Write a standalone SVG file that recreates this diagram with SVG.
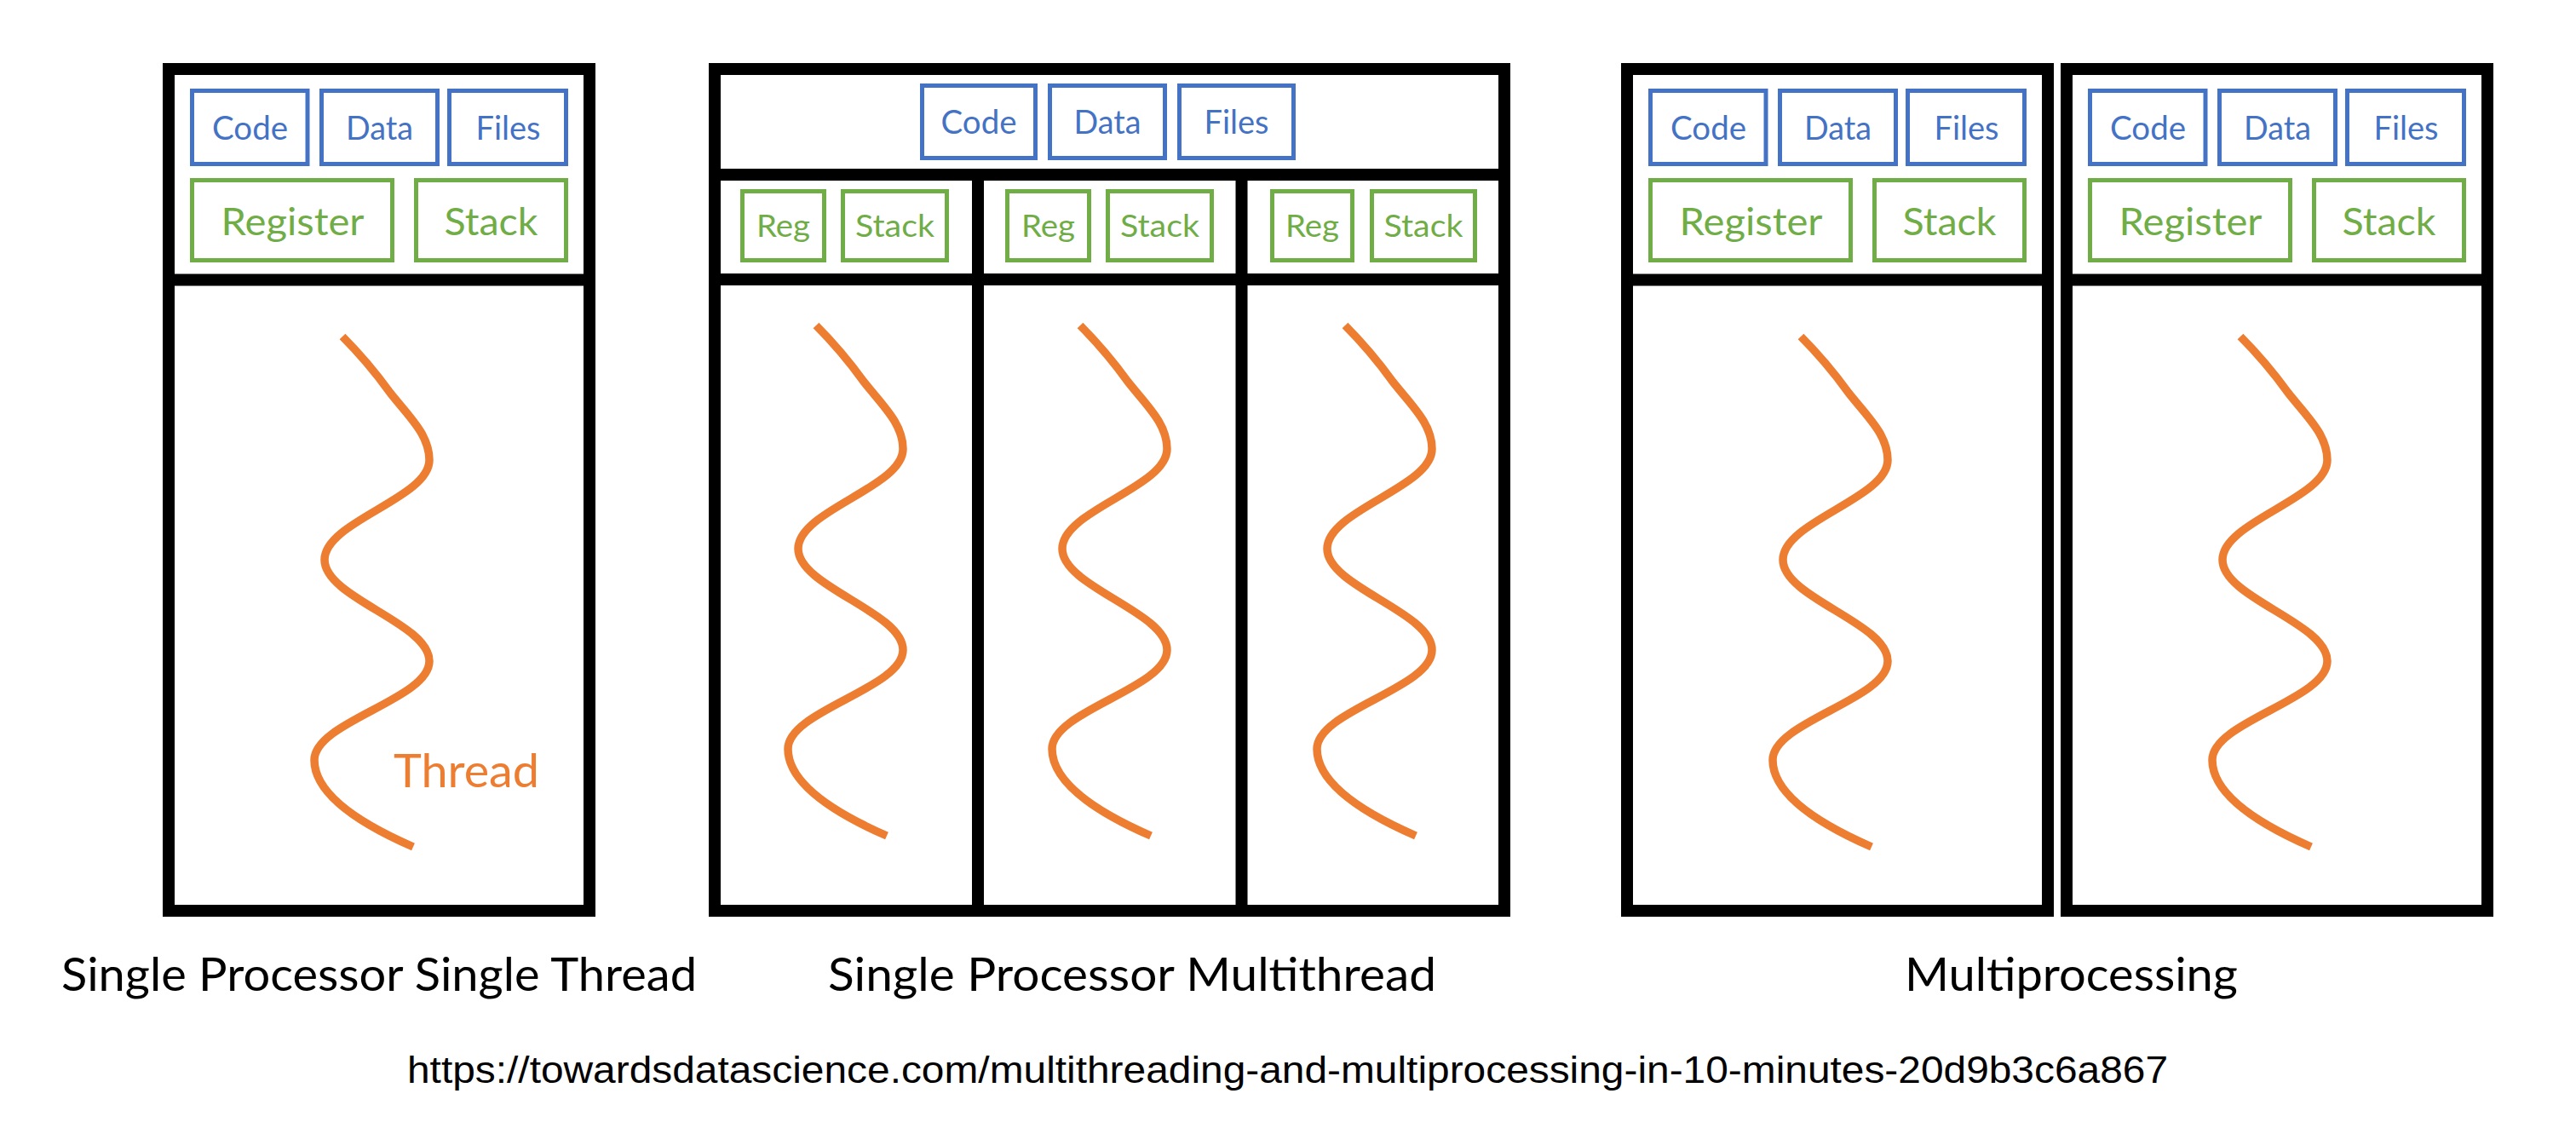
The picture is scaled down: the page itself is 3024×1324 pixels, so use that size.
<svg xmlns="http://www.w3.org/2000/svg" xmlns:xlink="http://www.w3.org/1999/xlink" width="3024" height="1324" viewBox="0 0 3024 1324">
<style>
.frame{fill:none;stroke:#000;stroke-width:14}
.bar{stroke:#000;stroke-width:14;fill:none}
.blue{fill:#fff;stroke:#4472C4;stroke-width:5}
.green{fill:#fff;stroke:#70AD47;stroke-width:5}
.bt{fill:#4472C4;font-family:Lato,"Open Sans",sans-serif;font-size:39px;text-anchor:middle}
.gt{fill:#70AD47;font-family:Lato,"Open Sans",sans-serif;font-size:45px;text-anchor:middle}
.gs{fill:#70AD47;font-family:Lato,"Open Sans",sans-serif;font-size:37px;text-anchor:middle}
.thread{fill:none;stroke:#ED7D31;stroke-width:9.5;stroke-linecap:butt}
.ot{fill:#ED7D31;font-family:Lato,"Open Sans",sans-serif;font-size:54px}
.lbl{fill:#000;font-family:Lato,"Open Sans",sans-serif;font-size:54px}
.url{fill:#000;font-family:"Liberation Sans",Arial,sans-serif;font-size:45px}
</style>
<defs>
<path id="thr" class="thread" d="M402,395 C425,418 445,443 458,461 C480,489 504,510 504,540 C504,585 381,612 381,657 C381,702 504,731 504,776 C504,821 369,847 369,892 C369,935 430,970 485,994"/>
</defs>
<rect width="3024" height="1324" fill="#fff"/>

<g id="box-single-thread">
  <rect class="frame" x="198" y="81" width="494" height="988"/>
  <line class="bar" x1="191" y1="328.5" x2="699" y2="328.5" stroke-width="13"/>
  <g id="b1-code"><rect class="blue" x="225.5" y="106.5" width="135.5" height="86"/><text class="bt" x="293.5" y="164" textLength="89" lengthAdjust="spacingAndGlyphs">Code</text></g>
  <g id="b1-data"><rect class="blue" x="377.5" y="106.5" width="136" height="86"/><text class="bt" x="445.5" y="164" textLength="79" lengthAdjust="spacingAndGlyphs">Data</text></g>
  <g id="b1-files"><rect class="blue" x="527.5" y="106.5" width="137" height="86"/><text class="bt" x="596.5" y="164" textLength="76" lengthAdjust="spacingAndGlyphs">Files</text></g>
  <g id="b1-register"><rect class="green" x="225.5" y="211.5" width="235" height="94"/><text class="gt" x="343.5" y="276" textLength="168" lengthAdjust="spacingAndGlyphs">Register</text></g>
  <g id="b1-stack"><rect class="green" x="488.5" y="211.5" width="176" height="94"/><text class="gt" x="576.5" y="276" textLength="110" lengthAdjust="spacingAndGlyphs">Stack</text></g>
  <g id="b1-thread"><use xlink:href="#thr" href="#thr"/></g>
  <text id="thread-label" class="ot" x="462" y="924" textLength="171" lengthAdjust="spacingAndGlyphs">Thread</text>
</g>

<g id="box-multithread">
  <rect class="frame" x="839" y="81" width="927" height="988"/>
  <line class="bar" x1="832" y1="205" x2="1773" y2="205"/>
  <line class="bar" x1="832" y1="328" x2="1773" y2="328" stroke-width="12"/>
  <line class="bar" x1="1148" y1="205" x2="1148" y2="1076"/>
  <line class="bar" x1="1457.5" y1="205" x2="1457.5" y2="1076" stroke-width="15"/>
  <g id="b2-code"><rect class="blue" x="1082.5" y="100.5" width="133" height="85"/><text class="bt" x="1149" y="157" textLength="89" lengthAdjust="spacingAndGlyphs">Code</text></g>
  <g id="b2-data"><rect class="blue" x="1232.5" y="100.5" width="135" height="85"/><text class="bt" x="1300" y="157" textLength="79" lengthAdjust="spacingAndGlyphs">Data</text></g>
  <g id="b2-files"><rect class="blue" x="1384.5" y="100.5" width="134" height="85"/><text class="bt" x="1451.5" y="157" textLength="76" lengthAdjust="spacingAndGlyphs">Files</text></g>
  <g id="b2-reg1"><rect class="green" x="871.5" y="224.5" width="96" height="81"/><text class="gs" x="919.5" y="278" textLength="63" lengthAdjust="spacingAndGlyphs">Reg</text></g>
  <g id="b2-stack1"><rect class="green" x="989.5" y="224.5" width="122" height="81"/><text class="gs" x="1050.5" y="278" textLength="93" lengthAdjust="spacingAndGlyphs">Stack</text></g>
  <g id="b2-reg2"><rect class="green" x="1182.5" y="224.5" width="96" height="81"/><text class="gs" x="1230.5" y="278" textLength="63" lengthAdjust="spacingAndGlyphs">Reg</text></g>
  <g id="b2-stack2"><rect class="green" x="1300.5" y="224.5" width="122" height="81"/><text class="gs" x="1361.5" y="278" textLength="93" lengthAdjust="spacingAndGlyphs">Stack</text></g>
  <g id="b2-reg3"><rect class="green" x="1493.5" y="224.5" width="94" height="81"/><text class="gs" x="1540.5" y="278" textLength="63" lengthAdjust="spacingAndGlyphs">Reg</text></g>
  <g id="b2-stack3"><rect class="green" x="1610.5" y="224.5" width="121" height="81"/><text class="gs" x="1671" y="278" textLength="93" lengthAdjust="spacingAndGlyphs">Stack</text></g>
  <g id="b2-thread1"><use xlink:href="#thr" href="#thr" transform="translate(556,-13)"/></g>
  <g id="b2-thread2"><use xlink:href="#thr" href="#thr" transform="translate(866,-13)"/></g>
  <g id="b2-thread3"><use xlink:href="#thr" href="#thr" transform="translate(1177,-13)"/></g>
</g>

<g id="box-process-1" transform="translate(1712,0)">
  <rect class="frame" x="198" y="81" width="494" height="988"/>
  <line class="bar" x1="191" y1="328.5" x2="699" y2="328.5" stroke-width="13"/>
  <g id="p1-code"><rect class="blue" x="225.5" y="106.5" width="135.5" height="86"/><text class="bt" x="293.5" y="164" textLength="89" lengthAdjust="spacingAndGlyphs">Code</text></g>
  <g id="p1-data"><rect class="blue" x="377.5" y="106.5" width="136" height="86"/><text class="bt" x="445.5" y="164" textLength="79" lengthAdjust="spacingAndGlyphs">Data</text></g>
  <g id="p1-files"><rect class="blue" x="527.5" y="106.5" width="137" height="86"/><text class="bt" x="596.5" y="164" textLength="76" lengthAdjust="spacingAndGlyphs">Files</text></g>
  <g id="p1-register"><rect class="green" x="225.5" y="211.5" width="235" height="94"/><text class="gt" x="343.5" y="276" textLength="168" lengthAdjust="spacingAndGlyphs">Register</text></g>
  <g id="p1-stack"><rect class="green" x="488.5" y="211.5" width="176" height="94"/><text class="gt" x="576.5" y="276" textLength="110" lengthAdjust="spacingAndGlyphs">Stack</text></g>
  <g id="p1-thread"><use xlink:href="#thr" href="#thr"/></g>
</g>

<g id="box-process-2" transform="translate(2228,0)">
  <rect class="frame" x="198" y="81" width="494" height="988"/>
  <line class="bar" x1="191" y1="328.5" x2="699" y2="328.5" stroke-width="13"/>
  <g id="p2-code"><rect class="blue" x="225.5" y="106.5" width="135.5" height="86"/><text class="bt" x="293.5" y="164" textLength="89" lengthAdjust="spacingAndGlyphs">Code</text></g>
  <g id="p2-data"><rect class="blue" x="377.5" y="106.5" width="136" height="86"/><text class="bt" x="445.5" y="164" textLength="79" lengthAdjust="spacingAndGlyphs">Data</text></g>
  <g id="p2-files"><rect class="blue" x="527.5" y="106.5" width="137" height="86"/><text class="bt" x="596.5" y="164" textLength="76" lengthAdjust="spacingAndGlyphs">Files</text></g>
  <g id="p2-register"><rect class="green" x="225.5" y="211.5" width="235" height="94"/><text class="gt" x="343.5" y="276" textLength="168" lengthAdjust="spacingAndGlyphs">Register</text></g>
  <g id="p2-stack"><rect class="green" x="488.5" y="211.5" width="176" height="94"/><text class="gt" x="576.5" y="276" textLength="110" lengthAdjust="spacingAndGlyphs">Stack</text></g>
  <g id="p2-thread"><use xlink:href="#thr" href="#thr"/></g>
</g>

<g id="connectors"></g>

<g id="labels">
  <text class="lbl" x="72" y="1163" textLength="746" lengthAdjust="spacingAndGlyphs">Single Processor Single Thread</text>
  <text class="lbl" x="972" y="1163" textLength="714" lengthAdjust="spacingAndGlyphs">Single Processor Multithread</text>
  <text class="lbl" x="2236" y="1163" textLength="391" lengthAdjust="spacingAndGlyphs">Multiprocessing</text>
  <text class="url" x="478" y="1271" textLength="2067" lengthAdjust="spacingAndGlyphs">https://towardsdatascience.com/multithreading-and-multiprocessing-in-10-minutes-20d9b3c6a867</text>
</g>
</svg>
